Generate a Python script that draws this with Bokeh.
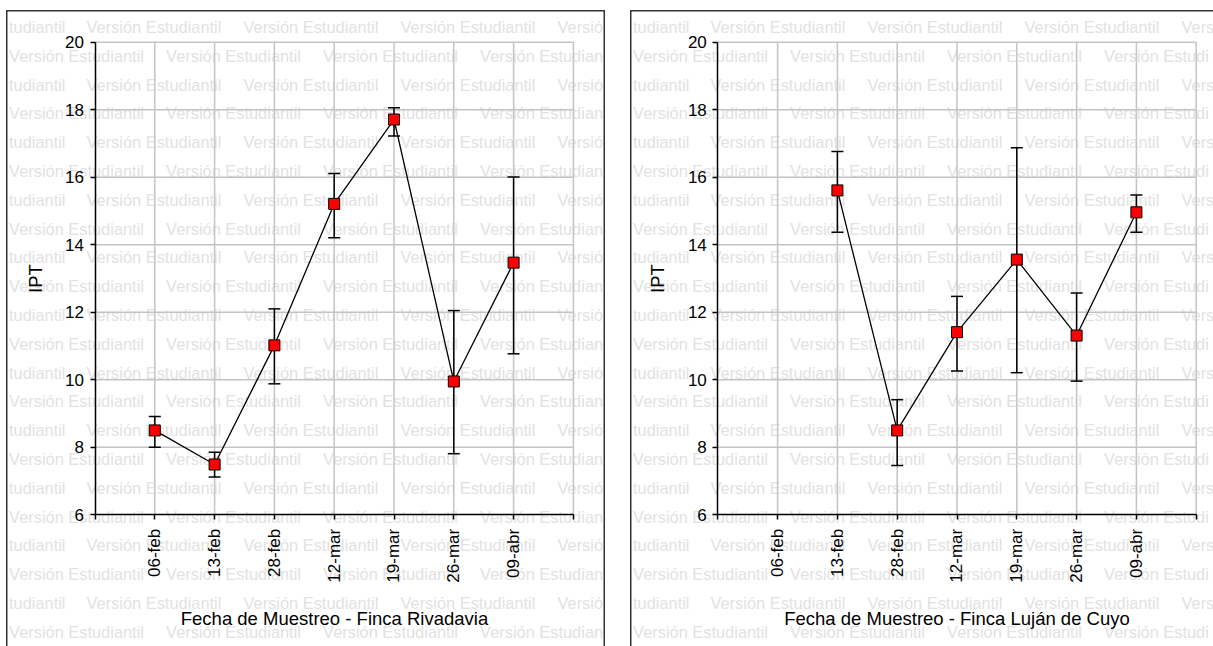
import math

from bokeh.plotting import figure
from bokeh.layouts import row
from bokeh.models import Range1d, FixedTicker, Label
from bokeh.embed import file_html
from bokeh.resources import INLINE

nan = float("nan")

# Sampling dates (shared category axis)
fechas = ["06-feb", "13-feb", "28-feb", "12-mar", "19-mar", "26-mar", "09-abr"]
y_ticks = [6, 8, 10, 12, 14, 16, 18, 20]

# Finca Rivadavia: mean IPT with upper / lower error limits
riv_media = [8.50, 7.49, 11.02, 15.21, 17.71, 9.95, 13.47]
riv_sup = [8.91, 7.85, 12.10, 16.11, 18.06, 12.05, 16.01]
riv_inf = [8.00, 7.12, 9.88, 14.21, 17.22, 7.81, 10.77]

# Finca Luján de Cuyo: no sample on 06-feb
lc_media = [nan, 15.61, 8.50, 11.41, 13.56, 11.31, 14.96]
lc_sup = [nan, 16.76, 9.41, 12.47, 16.87, 12.57, 15.47]
lc_inf = [nan, 14.37, 7.46, 10.26, 10.21, 9.96, 14.37]

FONT = "Liberation Sans"
MARCA = "Versión Estudiantil"
H = 636          # panel height in px
TOP, BOTTOM = 31.7, 504.3   # plot box (px from panel top)


def marca_de_agua(p, cola_a, cola_b):
    """Faint repeated 'Versión Estudiantil' rows across the whole panel."""
    paso = 157
    estilo = dict(x_units="canvas", y_units="canvas", text_font=FONT,
                  text_font_size="16.4px", text_color="#e2e2e2",
                  text_baseline="middle", level="image")
    for k in range(22):
        fila_a = k % 2 == 0
        y = 16.5 + 28.8 * k
        piezas = []
        if fila_a:
            piezas.append((59, "tudiantil", "right"))
            x0, cola = 80, cola_a
        else:
            x0, cola = 2.6, cola_b
        for j in range(3):
            piezas.append((x0 + paso * j, MARCA, "left"))
        piezas.append((x0 + paso * 3, cola, "left"))
        for x, txt, al in piezas:
            p.add_layout(Label(x=x, y=y, text=txt, text_align=al, **estilo))


def panel(titulo, media, sup, inf, width, left, right, margin_left,
          borde, cola_a, cola_b):
    n = len(fechas)
    x_ticks = list(range(0, n + 2))
    x0, x1 = x_ticks[0], x_ticks[-1]
    y0, y1 = y_ticks[0], y_ticks[-1]

    # the frame covers the whole panel; ranges are padded so the data box
    # sits at (left..right, TOP..BOTTOM) and the axes are pinned to its edges
    sx = (right - left) / (x1 - x0)
    sy = (BOTTOM - TOP) / (y1 - y0)
    xr = Range1d(x0 - left / sx, x1 + (width - right) / sx)
    yr = Range1d(y0 - (H - BOTTOM) / sy, y1 + TOP / sy)

    p = figure(width=width, height=H, x_range=xr, y_range=yr,
               output_backend="svg", toolbar_location=None,
               min_border=0, min_border_left=0, min_border_right=0,
               min_border_top=0, min_border_bottom=0,
               background_fill_color=None, border_fill_color=None)
    p.margin = (10, 0, 0, margin_left)
    p.outline_line_color = None
    p.xgrid.visible = False
    p.ygrid.visible = False
    # outer panel frame
    p.styles = {"box-shadow": borde}

    marca_de_agua(p, cola_a, cola_b)

    # grid
    gx = x_ticks[1:]
    gy = y_ticks[1:]
    p.segment(x0=gx, y0=[y0] * len(gx), x1=gx, y1=[y1] * len(gx),
              line_color="#c4c4c4", line_width=1.5)
    p.segment(x0=[x0] * len(gy), y0=gy, x1=[x1] * len(gy), y1=gy,
              line_color="#c4c4c4", line_width=1.5)

    xs = [i + 1 for i in range(n)]
    ok = [i for i in range(n) if not math.isnan(media[i])]
    xe = [xs[i] for i in ok]
    hi = [sup[i] for i in ok]
    lo = [inf[i] for i in ok]
    ym = [media[i] for i in ok]

    # error bars
    p.segment(x0=xe, y0=lo, x1=xe, y1=hi, line_color="black", line_width=1.5)
    p.scatter(xe, hi, marker="dash", size=12, line_color="black", line_width=1.5)
    p.scatter(xe, lo, marker="dash", size=12, line_color="black", line_width=1.5)
    # mean line and markers
    p.line(xe, ym, line_color="black", line_width=1.3)
    p.scatter(xe, ym, marker="square", size=11, fill_color="#ff0000",
              line_color="black", line_width=1)

    # axes
    ax = p.xaxis[0]
    ax.fixed_location = y0
    ax.bounds = (x0, x1)
    ax.ticker = FixedTicker(ticks=x_ticks)
    overrides = {i + 1: f for i, f in enumerate(fechas)}
    overrides[x0] = ""
    overrides[x1] = ""
    ax.major_label_overrides = overrides
    ax.major_label_orientation = math.pi / 2
    ax.axis_label = titulo

    ay = p.yaxis[0]
    ay.fixed_location = x0
    ay.bounds = (y0, y1)
    ay.ticker = FixedTicker(ticks=y_ticks)
    ay.axis_label = "IPT"

    for a in (ax, ay):
        a.axis_line_color = "black"
        a.axis_line_width = 1.5
        a.major_tick_line_color = "black"
        a.major_tick_line_width = 1.5
        a.major_tick_out = 5
        a.major_tick_in = 0
        a.minor_tick_line_color = None
        a.major_label_text_font = FONT
        a.major_label_text_font_size = "17px"
        a.major_label_text_color = "black"
        a.major_label_standoff = 6
        a.axis_label_text_font = FONT
        a.axis_label_text_font_size = "18.5px"
        a.axis_label_text_font_style = "normal"
        a.axis_label_text_color = "black"
    ax.major_label_standoff = 9
    ax.axis_label_standoff = 23
    ay.axis_label_standoff = 17
    return p


p1 = panel("Fecha de Muestreo - Finca Rivadavia", riv_media, riv_sup, riv_inf,
           width=599, left=88.5, right=566.9, margin_left=6,
           borde="inset 1.5px 1.5px 0 0 #333333, inset -1.5px 0 0 0 #333333",
           cola_a="Versió", cola_b="Versión Estudian")
p2 = panel("Fecha de Muestreo - Finca Luján de Cuyo", lc_media, lc_sup, lc_inf,
           width=583, left=87.3, right=565.7, margin_left=25,
           borde="inset 1.5px 1.5px 0 0 #333333",
           cola_a="Vers", cola_b="Versión Estudi")

layout = row(p1, p2)
open("out.html", "w").write(file_html(layout, INLINE))
